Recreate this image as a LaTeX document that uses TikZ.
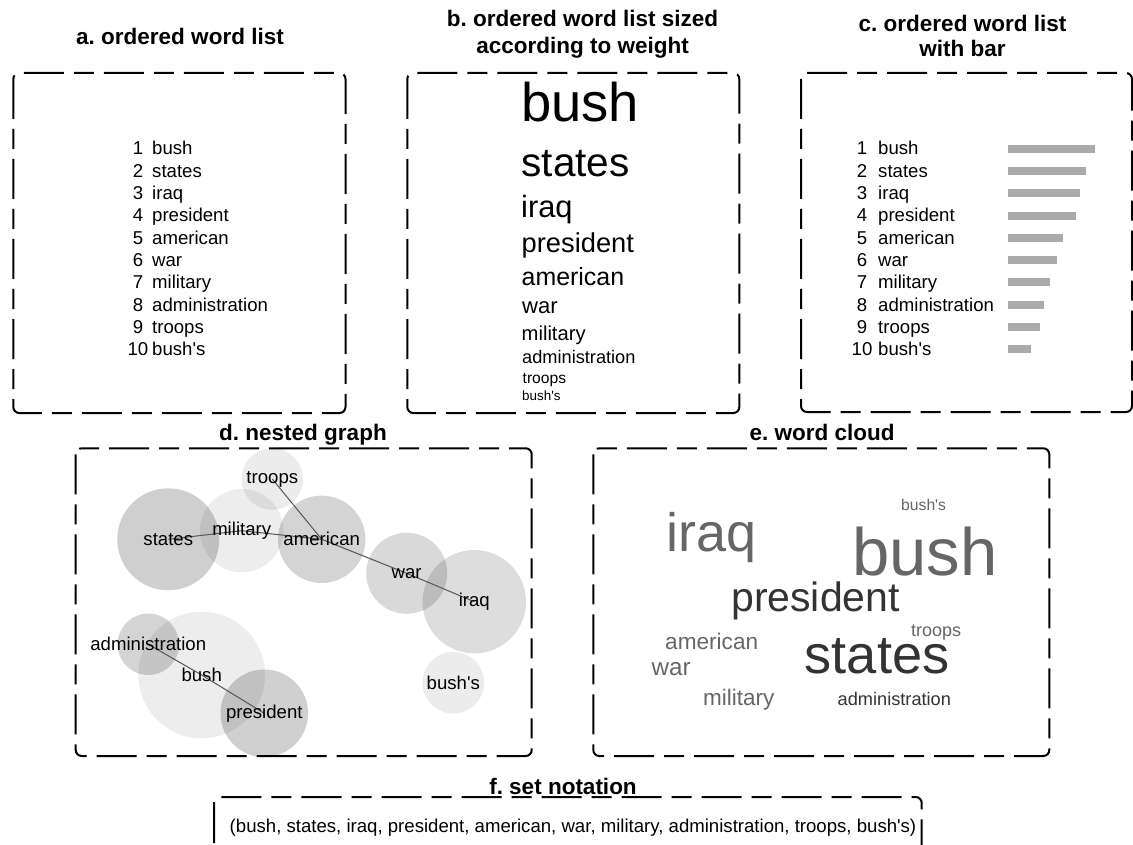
\documentclass[tikz,border=0pt]{standalone}
\usepackage{fontspec}
\setmainfont{Liberation Sans}
\frenchspacing
\definecolor{cdark}{HTML}{333333}
\definecolor{cmid}{HTML}{666666}
\definecolor{barfill}{HTML}{AAAAAA}
\definecolor{edgecol}{HTML}{555555}
\newcommand\wsize[1]{\fontsize{#1}{#1}\selectfont}
\begin{document}
\begin{tikzpicture}[x=1pt,y=-1pt,
  panel/.style={draw, line width=2pt, dash pattern=on 40pt off 10pt on 20pt off 10pt, rounded corners=6pt},
  title/.style={font=\bfseries\wsize{22.5}, anchor=base, inner sep=0},
  word/.style={anchor=base west, inner sep=0},
  num/.style={anchor=base, inner sep=0, font=\wsize{18.6}},
  listword/.style={anchor=base west, inner sep=0, font=\wsize{18.6}},
  bub/.style={circle, fill=black, draw=none, inner sep=0, outer sep=0},
  lbl/.style={inner sep=0, font=\wsize{18.6}},
  edge/.style={draw=edgecol, line width=1pt}]
\clip (0,0) rectangle (1133,845);
\fill[white] (0,0) rectangle (1133,845);

% panel frames
\draw[panel] (13.3,73) rectangle (345.5,413);
\draw[panel] (407.3,73) rectangle (739.3,413);
\draw[panel] (801,73) rectangle (1132,412);
\draw[panel] (75.7,448.3) rectangle (531.7,756);
\draw[panel] (593.3,448.3) rectangle (1049.3,756);
\draw[panel] (214,797) rectangle (921.7,880);

% titles
\node[title] (ta) at (180,44.3) {a. ordered word list};
\node[title] (tb1) at (582.5,27) {b. ordered word list sized};
\node[title] (tb2) at (582.5,53.5) {according to weight};
\node[title] (tc1) at (962.5,31.5) {c. ordered word list};
\node[title] (tc2) at (962.5,57) {with bar};
\node[title] (td) at (303,440.5) {d. nested graph};
\node[title] (te) at (822,440.5) {e. word cloud};
\node[title] (tf) at (563,794.5) {f. set notation};

% a. ordered word list
\foreach \w [count=\i] in {bush,states,iraq,president,american,war,military,administration,troops,bush\textquotesingle s} {
  \pgfmathsetmacro\yb{155+22.3*(\i-1)}
  \node[num] (an\i) at (138,\yb) {\i};
  \node[listword] (aw\i) at (152,\yb) {\w};
}

% b. word list sized by weight
\node[word, font=\wsize{54.4}] (b1) at (521,122) {bush};
\node[word, font=\wsize{40.5}] (b2) at (521.5,177) {states};
\node[word, font=\wsize{30.8}] (b3) at (521,218) {iraq};
\node[word, font=\wsize{27.3}] (b4) at (521.5,253) {president};
\node[word, font=\wsize{24.9}] (b5) at (521.5,285) {american};
\node[word, font=\wsize{22.1}] (b6) at (522,313) {war};
\node[word, font=\wsize{20.2}] (b7) at (521.5,340) {military};
\node[word, font=\wsize{18.2}] (b8) at (522,363) {administration};
\node[word, font=\wsize{15.6}] (b9) at (522.5,383) {troops};
\node[word, font=\wsize{13.4}] (b10) at (522,400) {bush\textquotesingle s};

% c. word list with bars
\foreach \w/\r [count=\i] in {bush/1095,states/1086,iraq/1080,president/1076,american/1063,war/1057,military/1050,administration/1044,troops/1040,bush\textquotesingle s/1031} {
  \pgfmathsetmacro\yb{155+22.3*(\i-1)}
  \node[num] (cn\i) at (862,\yb) {\i};
  \node[listword] (cw\i) at (878,\yb) {\w};
  \fill[barfill] (1007.5,\yb-10.3) rectangle (\r,\yb-2.3);
}

% d. nested graph: bubbles
\node[bub, minimum size=126.6pt, fill opacity=.07] (gbush) at (201.7,675) {};
\node[bub, minimum size=83.4pt, fill opacity=.07] (gmil) at (241.7,530.7) {};
\node[bub, minimum size=61.6pt, fill opacity=.075] (gtro) at (272.3,479) {};
\node[bub, minimum size=61.6pt, fill opacity=.075] (gbs) at (453.3,682.7) {};
\node[bub, minimum size=102pt, fill opacity=.19] (gsta) at (168.3,539.3) {};
\node[bub, minimum size=87.4pt, fill opacity=.17] (game) at (321.7,539.3) {};
\node[bub, minimum size=81pt, fill opacity=.15] (gwar) at (406.7,573.3) {};
\node[bub, minimum size=103.4pt, fill opacity=.135] (girq) at (474.3,601.7) {};
\node[bub, minimum size=61.4pt, fill opacity=.17] (gadm) at (148.3,644.3) {};
\node[bub, minimum size=87.6pt, fill opacity=.185] (gpre) at (264.3,713.3) {};

% d. nested graph: links
\draw[edge] (gsta.center) -- (gmil.center);
\draw[edge] (gmil.center) -- (game.center);
\draw[edge] (gtro.center) -- (game.center);
\draw[edge] (game.center) -- (gwar.center);
\draw[edge] (gwar.center) -- (girq.center);
\draw[edge] (gadm.center) -- (gbush.center);
\draw[edge] (gbush.center) -- (gpre.center);

% d. nested graph: labels
\node[lbl] (lsta) at (gsta.center) {states};
\node[lbl] (lmil) at (gmil.center) {military};
\node[lbl] (ltro) at (gtro.center) {troops};
\node[lbl] (lame) at (game.center) {american};
\node[lbl] (lwar) at (gwar.center) {war};
\node[lbl] (lirq) at (girq.center) {iraq};
\node[lbl] (lbs) at (gbs.center) {bush\textquotesingle s};
\node[lbl] (ladm) at (gadm.center) {administration};
\node[lbl] (lbush) at (gbush.center) {bush};
\node[lbl] (lpre) at (gpre.center) {president};

% e. word cloud
\node[word, text=cmid, font=\wsize{15.7}] (e1) at (901,510.7) {bush\textquotesingle s};
\node[word, text=cmid, font=\wsize{54}] (e2) at (666.5,551) {iraq};
\node[word, text=cmid, font=\wsize{67}] (e3) at (852.2,575) {bush};
\node[word, text=cdark, font=\wsize{41}] (e4) at (731,611.7) {president};
\node[word, text=cmid, font=\wsize{18}] (e5) at (911,636.7) {troops};
\node[word, text=cmid, font=\wsize{22.6}] (e6) at (665,649.3) {american};
\node[word, text=cmid, font=\wsize{24.2}] (e7) at (651.5,675) {war};
\node[word, text=cdark, font=\wsize{54.2}] (e8) at (804.5,673.3) {states};
\node[word, text=cmid, font=\wsize{22.5}] (e9) at (703,705) {military};
\node[word, text=cdark, font=\wsize{18.2}] (e10) at (837.5,705) {administration};

% f. set notation
\node[anchor=base, inner sep=0, font=\wsize{18.6}] (setf) at (573,832) {(bush, states, iraq, president, american, war, military, administration, troops, bush\textquotesingle s)};
\end{tikzpicture}
\end{document}
